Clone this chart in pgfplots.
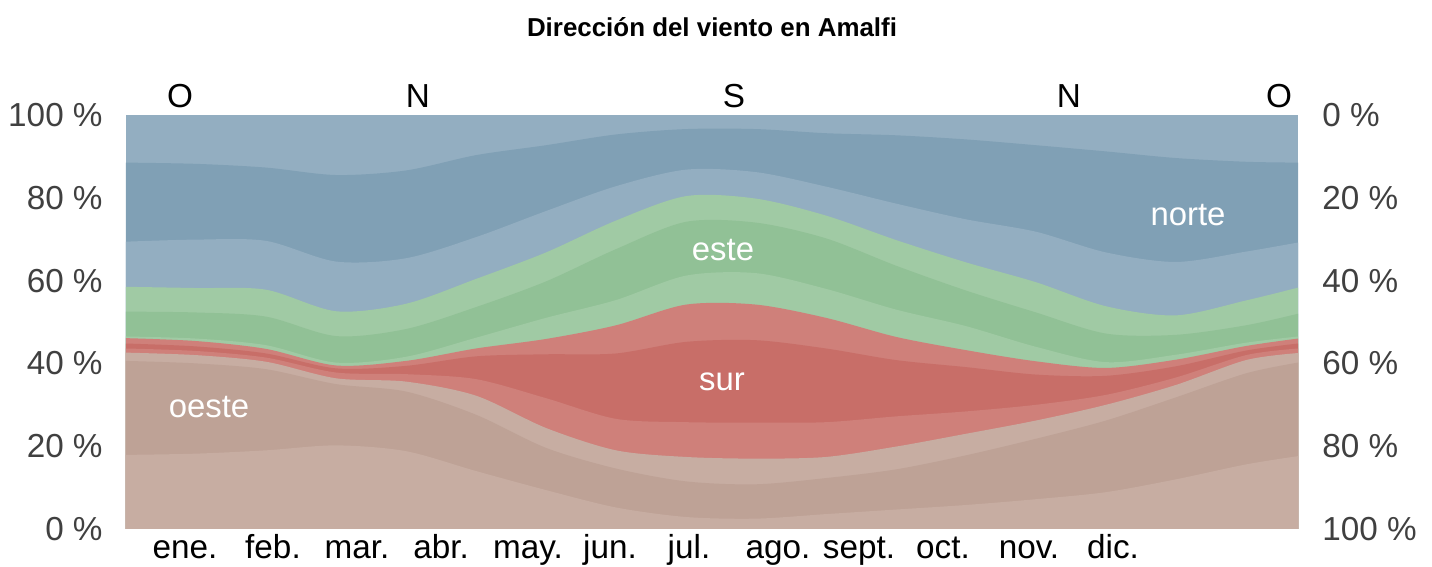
\documentclass[border=0pt]{standalone}
\usepackage{fontspec}
\setmainfont{Liberation Sans}
\usepackage{pgfplots}
\usepackage{pgfplotstable}
\pgfplotsset{compat=1.18}
\definecolor{lblue}{HTML}{93AEC1}
\definecolor{dblue}{HTML}{80A0B5}
\definecolor{lgreen}{HTML}{A0CAA4}
\definecolor{dgreen}{HTML}{91C196}
\definecolor{lred}{HTML}{CF807A}
\definecolor{dred}{HTML}{C86E68}
\definecolor{lbrown}{HTML}{C7ADA2}
\definecolor{dbrown}{HTML}{BEA296}
\definecolor{ticktext}{HTML}{404040}
\pgfplotstableread{
x     b1   b2   b3   b4   b5   b6   b7   b8   b9   b10  b11
0     17.9 40.6 42.6 43.6 44.8 46.1 46.5 52.5 58.5 69.4 88.5
70    18.2 40.0 42.0 43.0 44.1 45.4 46.0 52.3 58.2 69.9 88.2
140   19.0 38.6 40.4 41.4 42.4 43.5 44.4 51.3 57.8 69.6 87.3
210   20.2 35.0 36.4 37.8 38.8 39.5 40.2 46.6 52.6 64.6 85.5
280   18.8 33.2 35.6 37.4 39.4 40.6 41.6 48.3 54.4 65.4 86.6
350   14.0 27.6 32.2 36.2 41.7 43.6 46.2 53.6 60.4 70.5 90.3
420    9.4 19.6 24.4 31.6 42.2 45.9 51.0 59.8 66.8 76.8 92.7
490    5.2 14.6 19.0 26.6 42.4 49.2 55.3 67.6 74.5 82.8 95.3
560    2.9 11.5 17.4 25.8 45.2 54.2 61.2 74.2 80.4 86.8 96.6
630    2.5 10.8 17.0 25.7 45.6 54.2 61.8 74.0 79.8 86.2 96.6
700    3.6 12.3 17.4 25.8 43.6 51.0 58.0 70.2 75.7 82.7 95.6
770    4.7 14.4 19.9 27.2 40.8 46.4 53.0 63.6 69.8 78.6 95.1
840    5.8 17.8 23.0 28.4 39.1 43.2 49.0 57.6 64.4 74.8 94.1
910    7.2 21.8 26.2 30.0 37.3 40.5 44.0 52.3 59.6 71.8 92.7
980    8.9 26.2 30.0 32.4 37.0 38.9 40.3 47.2 53.8 66.8 91.2
1050  12.0 31.8 34.8 36.6 39.3 40.9 42.1 46.9 51.6 64.5 89.6
1120  15.6 37.6 40.8 42.0 43.1 44.2 45.0 49.2 55.2 67.0 88.7
1172  17.6 40.2 42.5 43.6 44.8 46.0 46.5 52.0 58.3 69.2 88.5
}\winddata
\begin{document}
\begin{tikzpicture}
\begin{axis}[
  at={(0,0)}, anchor=south west,
  scale only axis, width=586bp, height=207bp,
  xmin=0, xmax=1172, ymin=0, ymax=100,
  axis line style={draw=none},
  major tick length=0pt,
  xtick={59,147,231,315,402,484,563,652,733,817,903,987},
  xticklabels={ene.,feb.,mar.,abr.,may.,jun.,jul.,ago.,sept.,oct.,nov.,dic.},
  xticklabel style={font=\fontsize{16.7}{20}\selectfont, text=black, inner sep=0pt, anchor=north, text height=12bp, text depth=3bp, yshift=-2.5bp},
  ytick={0,20,40,60,80,100},
  yticklabels={0 \%,20 \%,40 \%,60 \%,80 \%,100 \%},
  yticklabel style={font=\fontsize{16.7}{20}\selectfont, text=ticktext, inner sep=0pt, anchor=east, xshift=-11.5bp},
]
\addplot[fill=lblue, draw=none] coordinates {(0,100) (1172,100)} \closedcycle;
\addplot[fill=dblue, draw=none, smooth, tension=0.5] table[x=x,y=b11] {\winddata} \closedcycle;
\addplot[fill=lblue, draw=none, smooth, tension=0.5] table[x=x,y=b10] {\winddata} \closedcycle;
\addplot[fill=lgreen, draw=none, smooth, tension=0.5] table[x=x,y=b9] {\winddata} \closedcycle;
\addplot[fill=dgreen, draw=none, smooth, tension=0.5] table[x=x,y=b8] {\winddata} \closedcycle;
\addplot[fill=lgreen, draw=none, smooth, tension=0.5] table[x=x,y=b7] {\winddata} \closedcycle;
\addplot[fill=lred, draw=none, smooth, tension=0.5] table[x=x,y=b6] {\winddata} \closedcycle;
\addplot[fill=dred, draw=none, smooth, tension=0.5] table[x=x,y=b5] {\winddata} \closedcycle;
\addplot[fill=lred, draw=none, smooth, tension=0.5] table[x=x,y=b4] {\winddata} \closedcycle;
\addplot[fill=lbrown, draw=none, smooth, tension=0.5] table[x=x,y=b3] {\winddata} \closedcycle;
\addplot[fill=dbrown, draw=none, smooth, tension=0.5] table[x=x,y=b2] {\winddata} \closedcycle;
\addplot[fill=lbrown, draw=none, smooth, tension=0.5] table[x=x,y=b1] {\winddata} \closedcycle;
\node[text=white, font=\fontsize{16.5}{20}\selectfont] at (axis cs:1062,75.8) {norte};
\node[text=white, font=\fontsize{16.5}{20}\selectfont] at (axis cs:597,67.4) {este};
\node[text=white, font=\fontsize{16.5}{20}\selectfont] at (axis cs:596,35.5) {sur};
\node[text=white, font=\fontsize{16.5}{20}\selectfont] at (axis cs:83,29.5) {oeste};
\end{axis}
\begin{axis}[
  at={(0,0)}, anchor=south west,
  scale only axis, width=586bp, height=207bp,
  xmin=0, xmax=1172, ymin=0, ymax=100, y dir=reverse,
  axis x line*=top, axis y line*=right,
  axis line style={draw=none},
  major tick length=0pt,
  xtick={54,292,608,943,1153},
  xticklabels={O,N,S,N,O},
  xticklabel style={font=\fontsize{16.7}{20}\selectfont, text=black, inner sep=0pt, anchor=south, text depth=0pt, yshift=3.5bp},
  ytick={0,20,40,60,80,100},
  yticklabels={0 \%,20 \%,40 \%,60 \%,80 \%,100 \%},
  yticklabel style={font=\fontsize{16.7}{20}\selectfont, text=ticktext, inner sep=0pt, anchor=west, xshift=12bp},
]
\addplot[draw=none] coordinates {(0,0) (1172,100)};
\end{axis}
\node[font=\bfseries\fontsize{13}{16}\selectfont] at (293bp,251bp) {Dirección del viento en Amalfi};
\path (-63bp,-19bp) rectangle (653bp,264.5bp);
\end{tikzpicture}
\end{document}
